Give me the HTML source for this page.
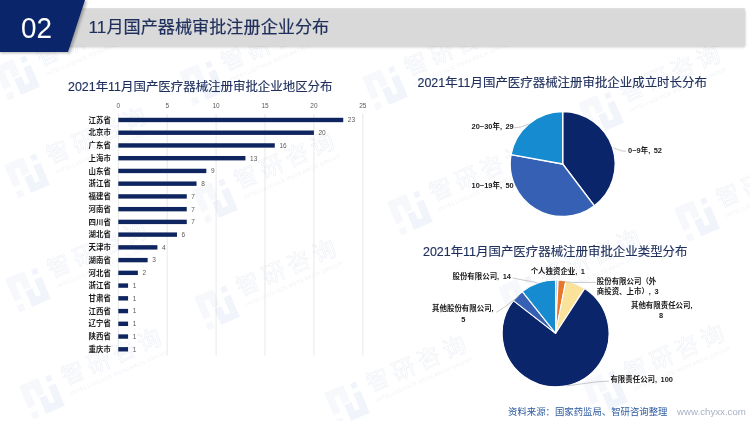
<!DOCTYPE html>
<html lang="zh-CN">
<head>
<meta charset="utf-8">
<title>11月国产器械审批注册企业分布</title>
<style>
html,body{margin:0;padding:0;background:#fff;}
body{width:750px;height:421px;overflow:hidden;position:relative;font-family:"Liberation Sans", "Noto Sans CJK SC", sans-serif;}
svg{position:absolute;left:0;top:0;display:block;}
text{font-family:"Liberation Sans", "Noto Sans CJK SC", sans-serif;}
.wm text{fill:none;stroke:#ebeff5;stroke-width:0.55;}
.wm .sub{fill:#eff2f6;stroke:none;}
.wm .la{fill:#f6f8fc;}
.wm .lb{fill:#f1f5fb;}
.cat{font-size:7.45px;font-weight:bold;fill:#1a1a1a;}
.val{font-size:6.5px;fill:#595959;}
.ax{font-size:6.5px;fill:#595959;}
.ttl{font-size:12.45px;fill:#1f2f5c;stroke:#1f2f5c;stroke-width:0.15px;}
.pl{word-spacing:1.4px;font-size:7.45px;font-weight:bold;fill:#1a1a1a;}
</style>
</head>
<body>
<svg width="750" height="421" viewBox="0 0 750 421">
<defs>
<filter id="sh" x="-5%" y="-30%" width="110%" height="180%"><feGaussianBlur stdDeviation="1.6"/></filter>
<filter id="sh2" x="-10%" y="-10%" width="120%" height="130%"><feGaussianBlur stdDeviation="1.8"/></filter>
</defs>

<g>
<g class="wm" transform="translate(17,77) rotate(-23.5)"><g class="la" transform="scale(0.86)">
<polygon points="-20,-21 4,-21 4,-1 -5,-1 -5,-12 -11,-12 -11,7 -20,7"/>
<rect x="-20" y="13" width="8" height="8"/>
</g>
<g class="lb" transform="scale(0.86)">
<polygon points="20,21 -4,21 -4,1 5,1 5,12 11,12 11,-7 20,-7"/>
<rect x="12" y="-19" width="7" height="7"/>
</g>
<text x="26" y="-0.3" font-size="23" letter-spacing="4.7">智研咨询</text>
<text class="sub" x="27.5" y="11.3" font-size="5.4" letter-spacing="0.5">INTELLIGENCE RESEARCH GROUP</text></g>
<g class="wm" transform="translate(202,82) rotate(-23.5)"><g class="la" transform="scale(0.86)">
<polygon points="-20,-21 4,-21 4,-1 -5,-1 -5,-12 -11,-12 -11,7 -20,7"/>
<rect x="-20" y="13" width="8" height="8"/>
</g>
<g class="lb" transform="scale(0.86)">
<polygon points="20,21 -4,21 -4,1 5,1 5,12 11,12 11,-7 20,-7"/>
<rect x="12" y="-19" width="7" height="7"/>
</g>
<text x="26" y="-0.3" font-size="23" letter-spacing="4.7">智研咨询</text>
<text class="sub" x="27.5" y="11.3" font-size="5.4" letter-spacing="0.5">INTELLIGENCE RESEARCH GROUP</text></g>
<g class="wm" transform="translate(385,87) rotate(-23.5)"><g class="la" transform="scale(0.86)">
<polygon points="-20,-21 4,-21 4,-1 -5,-1 -5,-12 -11,-12 -11,7 -20,7"/>
<rect x="-20" y="13" width="8" height="8"/>
</g>
<g class="lb" transform="scale(0.86)">
<polygon points="20,21 -4,21 -4,1 5,1 5,12 11,12 11,-7 20,-7"/>
<rect x="12" y="-19" width="7" height="7"/>
</g>
<text x="26" y="-0.3" font-size="23" letter-spacing="4.7">智研咨询</text>
<text class="sub" x="27.5" y="11.3" font-size="5.4" letter-spacing="0.5">INTELLIGENCE RESEARCH GROUP</text></g>
<g class="wm" transform="translate(601,113) rotate(-23.5)"><g class="la" transform="scale(0.86)">
<polygon points="-20,-21 4,-21 4,-1 -5,-1 -5,-12 -11,-12 -11,7 -20,7"/>
<rect x="-20" y="13" width="8" height="8"/>
</g>
<g class="lb" transform="scale(0.86)">
<polygon points="20,21 -4,21 -4,1 5,1 5,12 11,12 11,-7 20,-7"/>
<rect x="12" y="-19" width="7" height="7"/>
</g>
<text x="26" y="-0.3" font-size="23" letter-spacing="4.7">智研咨询</text>
<text class="sub" x="27.5" y="11.3" font-size="5.4" letter-spacing="0.5">INTELLIGENCE RESEARCH GROUP</text></g>
<g class="wm" transform="translate(27,175) rotate(-23.5)"><g class="la" transform="scale(0.86)">
<polygon points="-20,-21 4,-21 4,-1 -5,-1 -5,-12 -11,-12 -11,7 -20,7"/>
<rect x="-20" y="13" width="8" height="8"/>
</g>
<g class="lb" transform="scale(0.86)">
<polygon points="20,21 -4,21 -4,1 5,1 5,12 11,12 11,-7 20,-7"/>
<rect x="12" y="-19" width="7" height="7"/>
</g>
<text x="26" y="-0.3" font-size="23" letter-spacing="4.7">智研咨询</text>
<text class="sub" x="27.5" y="11.3" font-size="5.4" letter-spacing="0.5">INTELLIGENCE RESEARCH GROUP</text></g>
<g class="wm" transform="translate(215,200) rotate(-23.5)"><g class="la" transform="scale(0.86)">
<polygon points="-20,-21 4,-21 4,-1 -5,-1 -5,-12 -11,-12 -11,7 -20,7"/>
<rect x="-20" y="13" width="8" height="8"/>
</g>
<g class="lb" transform="scale(0.86)">
<polygon points="20,21 -4,21 -4,1 5,1 5,12 11,12 11,-7 20,-7"/>
<rect x="12" y="-19" width="7" height="7"/>
</g>
<text x="26" y="-0.3" font-size="23" letter-spacing="4.7">智研咨询</text>
<text class="sub" x="27.5" y="11.3" font-size="5.4" letter-spacing="0.5">INTELLIGENCE RESEARCH GROUP</text></g>
<g class="wm" transform="translate(410,212) rotate(-23.5)"><g class="la" transform="scale(0.86)">
<polygon points="-20,-21 4,-21 4,-1 -5,-1 -5,-12 -11,-12 -11,7 -20,7"/>
<rect x="-20" y="13" width="8" height="8"/>
</g>
<g class="lb" transform="scale(0.86)">
<polygon points="20,21 -4,21 -4,1 5,1 5,12 11,12 11,-7 20,-7"/>
<rect x="12" y="-19" width="7" height="7"/>
</g>
<text x="26" y="-0.3" font-size="23" letter-spacing="4.7">智研咨询</text>
<text class="sub" x="27.5" y="11.3" font-size="5.4" letter-spacing="0.5">INTELLIGENCE RESEARCH GROUP</text></g>
<g class="wm" transform="translate(697,218.5) rotate(-23.5)"><g class="la" transform="scale(0.86)">
<polygon points="-20,-21 4,-21 4,-1 -5,-1 -5,-12 -11,-12 -11,7 -20,7"/>
<rect x="-20" y="13" width="8" height="8"/>
</g>
<g class="lb" transform="scale(0.86)">
<polygon points="20,21 -4,21 -4,1 5,1 5,12 11,12 11,-7 20,-7"/>
<rect x="12" y="-19" width="7" height="7"/>
</g>
<text x="26" y="-0.3" font-size="23" letter-spacing="4.7">智研咨询</text>
<text class="sub" x="27.5" y="11.3" font-size="5.4" letter-spacing="0.5">INTELLIGENCE RESEARCH GROUP</text></g>
<g class="wm" transform="translate(521,297) rotate(-23.5)"><g class="la" transform="scale(0.86)">
<polygon points="-20,-21 4,-21 4,-1 -5,-1 -5,-12 -11,-12 -11,7 -20,7"/>
<rect x="-20" y="13" width="8" height="8"/>
</g>
<g class="lb" transform="scale(0.86)">
<polygon points="20,21 -4,21 -4,1 5,1 5,12 11,12 11,-7 20,-7"/>
<rect x="12" y="-19" width="7" height="7"/>
</g>
<text x="26" y="-0.3" font-size="23" letter-spacing="4.7">智研咨询</text>
<text class="sub" x="27.5" y="11.3" font-size="5.4" letter-spacing="0.5">INTELLIGENCE RESEARCH GROUP</text></g>
<g class="wm" transform="translate(28,289) rotate(-23.5)"><g class="la" transform="scale(0.86)">
<polygon points="-20,-21 4,-21 4,-1 -5,-1 -5,-12 -11,-12 -11,7 -20,7"/>
<rect x="-20" y="13" width="8" height="8"/>
</g>
<g class="lb" transform="scale(0.86)">
<polygon points="20,21 -4,21 -4,1 5,1 5,12 11,12 11,-7 20,-7"/>
<rect x="12" y="-19" width="7" height="7"/>
</g>
<text x="26" y="-0.3" font-size="23" letter-spacing="4.7">智研咨询</text>
<text class="sub" x="27.5" y="11.3" font-size="5.4" letter-spacing="0.5">INTELLIGENCE RESEARCH GROUP</text></g>
<g class="wm" transform="translate(217,307) rotate(-23.5)"><g class="la" transform="scale(0.86)">
<polygon points="-20,-21 4,-21 4,-1 -5,-1 -5,-12 -11,-12 -11,7 -20,7"/>
<rect x="-20" y="13" width="8" height="8"/>
</g>
<g class="lb" transform="scale(0.86)">
<polygon points="20,21 -4,21 -4,1 5,1 5,12 11,12 11,-7 20,-7"/>
<rect x="12" y="-19" width="7" height="7"/>
</g>
<text x="26" y="-0.3" font-size="23" letter-spacing="4.7">智研咨询</text>
<text class="sub" x="27.5" y="11.3" font-size="5.4" letter-spacing="0.5">INTELLIGENCE RESEARCH GROUP</text></g>
<g class="wm" transform="translate(42,396) rotate(-23.5)"><g class="la" transform="scale(0.86)">
<polygon points="-20,-21 4,-21 4,-1 -5,-1 -5,-12 -11,-12 -11,7 -20,7"/>
<rect x="-20" y="13" width="8" height="8"/>
</g>
<g class="lb" transform="scale(0.86)">
<polygon points="20,21 -4,21 -4,1 5,1 5,12 11,12 11,-7 20,-7"/>
<rect x="12" y="-19" width="7" height="7"/>
</g>
<text x="26" y="-0.3" font-size="23" letter-spacing="4.7">智研咨询</text>
<text class="sub" x="27.5" y="11.3" font-size="5.4" letter-spacing="0.5">INTELLIGENCE RESEARCH GROUP</text></g>
<g class="wm" transform="translate(347,403) rotate(-23.5)"><g class="la" transform="scale(0.86)">
<polygon points="-20,-21 4,-21 4,-1 -5,-1 -5,-12 -11,-12 -11,7 -20,7"/>
<rect x="-20" y="13" width="8" height="8"/>
</g>
<g class="lb" transform="scale(0.86)">
<polygon points="20,21 -4,21 -4,1 5,1 5,12 11,12 11,-7 20,-7"/>
<rect x="12" y="-19" width="7" height="7"/>
</g>
<text x="26" y="-0.3" font-size="23" letter-spacing="4.7">智研咨询</text>
<text class="sub" x="27.5" y="11.3" font-size="5.4" letter-spacing="0.5">INTELLIGENCE RESEARCH GROUP</text></g>
<g class="wm" transform="translate(605,392) rotate(-23.5)"><g class="la" transform="scale(0.86)">
<polygon points="-20,-21 4,-21 4,-1 -5,-1 -5,-12 -11,-12 -11,7 -20,7"/>
<rect x="-20" y="13" width="8" height="8"/>
</g>
<g class="lb" transform="scale(0.86)">
<polygon points="20,21 -4,21 -4,1 5,1 5,12 11,12 11,-7 20,-7"/>
<rect x="12" y="-19" width="7" height="7"/>
</g>
<text x="26" y="-0.3" font-size="23" letter-spacing="4.7">智研咨询</text>
<text class="sub" x="27.5" y="11.3" font-size="5.4" letter-spacing="0.5">INTELLIGENCE RESEARCH GROUP</text></g>
</g>
<rect x="62" y="10" width="683" height="36.8" fill="#000" opacity="0.25" filter="url(#sh)"/>
<rect x="60" y="8.2" width="684.8" height="37.9" fill="#d9d9d9"/>
<polygon points="0,1 87,1 70,53 0,53" fill="#000" opacity="0.3" filter="url(#sh2)"/>
<polygon points="0,0 85,0 68,52 0,52" fill="#0a2569"/>
<text x="21.1" y="38" font-size="30.2" fill="#fff" textLength="31" lengthAdjust="spacingAndGlyphs">02</text>
<text x="88.6" y="32.9" font-size="17.15" fill="#1f2f5c" stroke="#1f2f5c" stroke-width="0.2">11月国产器械审批注册企业分布</text>
<text class="ttl" x="68" y="90.5">2021年11月国产医疗器械注册审批企业地区分布</text>
<line x1="118.30" y1="113.60" x2="118.30" y2="355.66" stroke="#d9d9d9" stroke-width="0.6"/>
<text class="ax" x="118.30" y="108.05" text-anchor="middle">0</text>
<line x1="167.20" y1="113.60" x2="167.20" y2="355.66" stroke="#d9d9d9" stroke-width="0.6"/>
<text class="ax" x="167.20" y="108.05" text-anchor="middle">5</text>
<line x1="216.10" y1="113.60" x2="216.10" y2="355.66" stroke="#d9d9d9" stroke-width="0.6"/>
<text class="ax" x="216.10" y="108.05" text-anchor="middle">10</text>
<line x1="265.00" y1="113.60" x2="265.00" y2="355.66" stroke="#d9d9d9" stroke-width="0.6"/>
<text class="ax" x="265.00" y="108.05" text-anchor="middle">15</text>
<line x1="313.90" y1="113.60" x2="313.90" y2="355.66" stroke="#d9d9d9" stroke-width="0.6"/>
<text class="ax" x="313.90" y="108.05" text-anchor="middle">20</text>
<line x1="362.80" y1="113.60" x2="362.80" y2="355.66" stroke="#d9d9d9" stroke-width="0.6"/>
<text class="ax" x="362.80" y="108.05" text-anchor="middle">25</text>
<rect x="118.30" y="117.77" width="224.94" height="4.4" fill="#0f2560"/>
<text class="cat" x="110.9" y="122.62" text-anchor="end">江苏省</text>
<text class="val" x="347.84" y="122.32">23</text>
<rect x="118.30" y="130.51" width="195.60" height="4.4" fill="#0f2560"/>
<text class="cat" x="110.9" y="135.36" text-anchor="end">北京市</text>
<text class="val" x="318.50" y="135.06">20</text>
<rect x="118.30" y="143.25" width="156.48" height="4.4" fill="#0f2560"/>
<text class="cat" x="110.9" y="148.10" text-anchor="end">广东省</text>
<text class="val" x="279.38" y="147.80">16</text>
<rect x="118.30" y="155.99" width="127.14" height="4.4" fill="#0f2560"/>
<text class="cat" x="110.9" y="160.84" text-anchor="end">上海市</text>
<text class="val" x="250.04" y="160.54">13</text>
<rect x="118.30" y="168.73" width="88.02" height="4.4" fill="#0f2560"/>
<text class="cat" x="110.9" y="173.58" text-anchor="end">山东省</text>
<text class="val" x="210.92" y="173.28">9</text>
<rect x="118.30" y="181.47" width="78.24" height="4.4" fill="#0f2560"/>
<text class="cat" x="110.9" y="186.32" text-anchor="end">浙江省</text>
<text class="val" x="201.14" y="186.02">8</text>
<rect x="118.30" y="194.21" width="68.46" height="4.4" fill="#0f2560"/>
<text class="cat" x="110.9" y="199.06" text-anchor="end">福建省</text>
<text class="val" x="191.36" y="198.76">7</text>
<rect x="118.30" y="206.95" width="68.46" height="4.4" fill="#0f2560"/>
<text class="cat" x="110.9" y="211.80" text-anchor="end">河南省</text>
<text class="val" x="191.36" y="211.50">7</text>
<rect x="118.30" y="219.69" width="68.46" height="4.4" fill="#0f2560"/>
<text class="cat" x="110.9" y="224.54" text-anchor="end">四川省</text>
<text class="val" x="191.36" y="224.24">7</text>
<rect x="118.30" y="232.43" width="58.68" height="4.4" fill="#0f2560"/>
<text class="cat" x="110.9" y="237.28" text-anchor="end">湖北省</text>
<text class="val" x="181.58" y="236.98">6</text>
<rect x="118.30" y="245.17" width="39.12" height="4.4" fill="#0f2560"/>
<text class="cat" x="110.9" y="250.02" text-anchor="end">天津市</text>
<text class="val" x="162.02" y="249.72">4</text>
<rect x="118.30" y="257.91" width="29.34" height="4.4" fill="#0f2560"/>
<text class="cat" x="110.9" y="262.76" text-anchor="end">湖南省</text>
<text class="val" x="152.24" y="262.46">3</text>
<rect x="118.30" y="270.65" width="19.56" height="4.4" fill="#0f2560"/>
<text class="cat" x="110.9" y="275.50" text-anchor="end">河北省</text>
<text class="val" x="142.46" y="275.20">2</text>
<rect x="118.30" y="283.39" width="9.78" height="4.4" fill="#0f2560"/>
<text class="cat" x="110.9" y="288.24" text-anchor="end">浙江省</text>
<text class="val" x="132.68" y="287.94">1</text>
<rect x="118.30" y="296.13" width="9.78" height="4.4" fill="#0f2560"/>
<text class="cat" x="110.9" y="300.98" text-anchor="end">甘肃省</text>
<text class="val" x="132.68" y="300.68">1</text>
<rect x="118.30" y="308.87" width="9.78" height="4.4" fill="#0f2560"/>
<text class="cat" x="110.9" y="313.72" text-anchor="end">江西省</text>
<text class="val" x="132.68" y="313.42">1</text>
<rect x="118.30" y="321.61" width="9.78" height="4.4" fill="#0f2560"/>
<text class="cat" x="110.9" y="326.46" text-anchor="end">辽宁省</text>
<text class="val" x="132.68" y="326.16">1</text>
<rect x="118.30" y="334.35" width="9.78" height="4.4" fill="#0f2560"/>
<text class="cat" x="110.9" y="339.20" text-anchor="end">陕西省</text>
<text class="val" x="132.68" y="338.90">1</text>
<rect x="118.30" y="347.09" width="9.78" height="4.4" fill="#0f2560"/>
<text class="cat" x="110.9" y="351.94" text-anchor="end">重庆市</text>
<text class="val" x="132.68" y="351.64">1</text>
<text class="ttl" x="417.5" y="87.2">2021年11月国产医疗器械注册审批企业成立时长分布</text>
<path d="M562.70,164.00 L562.70,111.50 A52.5,52.5 0 0 1 594.37,205.87 Z" fill="#0a2569" stroke="#fff" stroke-width="1.3" stroke-linejoin="round"/>
<path d="M562.70,164.00 L594.37,205.87 A52.5,52.5 0 0 1 511.05,154.61 Z" fill="#3560b4" stroke="#fff" stroke-width="1.3" stroke-linejoin="round"/>
<path d="M562.70,164.00 L511.05,154.61 A52.5,52.5 0 0 1 562.70,111.50 Z" fill="#168bd0" stroke="#fff" stroke-width="1.3" stroke-linejoin="round"/>
<text class="pl" x="471.6" y="129.1">20~30年, 29</text>
<text class="pl" x="628.1" y="152.9">0~9年, 52</text>
<text class="pl" x="471.6" y="187.6">10~19年, 50</text>
<polyline points="514,127.9 521.5,126.9 528.8,123.9" fill="none" stroke="#a6a6a6" stroke-width="0.6"/>
<polyline points="613.3,147.8 622,151 626,151.2" fill="none" stroke="#a6a6a6" stroke-width="0.6"/>
<text class="ttl" x="423" y="255.5">2021年11月国产医疗器械注册审批企业类型分布</text>
<path d="M555.60,333.40 L555.60,280.00 A53.4,53.4 0 0 1 558.16,280.06 Z" fill="#9cc3e6" stroke="#fff" stroke-width="1.1" stroke-linejoin="round"/>
<path d="M555.60,333.40 L558.16,280.06 A53.4,53.4 0 0 1 565.78,280.98 Z" fill="#e8772e" stroke="#fff" stroke-width="1.1" stroke-linejoin="round"/>
<path d="M555.60,333.40 L565.78,280.98 A53.4,53.4 0 0 1 584.67,288.60 Z" fill="#fbe29b" stroke="#fff" stroke-width="1.1" stroke-linejoin="round"/>
<path d="M555.60,333.40 L584.67,288.60 A53.4,53.4 0 1 1 513.40,300.68 Z" fill="#0a2569" stroke="#fff" stroke-width="1.1" stroke-linejoin="round"/>
<path d="M555.60,333.40 L513.40,300.68 A53.4,53.4 0 0 1 522.38,291.59 Z" fill="#3560b4" stroke="#fff" stroke-width="1.1" stroke-linejoin="round"/>
<path d="M555.60,333.40 L522.38,291.59 A53.4,53.4 0 0 1 555.60,280.00 Z" fill="#168bd0" stroke="#fff" stroke-width="1.1" stroke-linejoin="round"/>
<text class="pl" x="452.5" y="279.2">股份有限公司, 14</text>
<text class="pl" x="530.7" y="274.3">个人独资企业, 1</text>
<text class="pl" x="596.8" y="284.3">股份有限公司（外</text>
<text class="pl" x="596.8" y="294.1">商投资、上市）, 3</text>
<text class="pl" x="631" y="308.4">其他有限责任公司,</text>
<text class="pl" x="661" y="318.1" text-anchor="middle">8</text>
<text class="pl" x="432.1" y="311.3">其他股份有限公司,</text>
<text class="pl" x="463.2" y="322" text-anchor="middle">5</text>
<text class="pl" x="610.4" y="382.2">有限责任公司, 100</text>
<polyline points="512.6,278 537.5,282.8" fill="none" stroke="#a6a6a6" stroke-width="0.6"/>
<polyline points="496.3,312.3 504.9,306.9 518.8,296.2" fill="none" stroke="#a6a6a6" stroke-width="0.6"/>
<polyline points="562.5,281.6 572,282.4 595.7,282.4" fill="none" stroke="#a6a6a6" stroke-width="0.6"/>
<polyline points="566,386 597,381.8 609,381.1" fill="none" stroke="#a6a6a6" stroke-width="0.6"/>
<text x="508" y="415" font-size="9.4" fill="#2c5aa0">资料来源：国家药监局、智研咨询整理</text>
<text x="677" y="414.8" font-size="9.7" fill="#a8b2c4">www.chyxx.com</text>
</svg>
</body>
</html>
